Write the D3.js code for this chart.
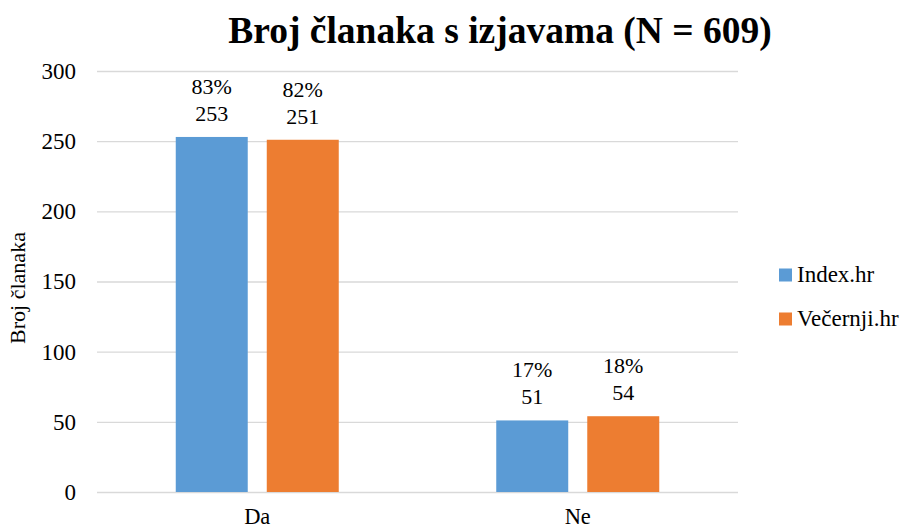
<!DOCTYPE html>
<html><head><meta charset="utf-8">
<script src="https://cdn.jsdelivr.net/npm/d3@7"></script>
<style>body{margin:0;background:#fff}</style>
</head><body>
<svg id="c" width="908" height="531"></svg>
<script>
const categories = ["Da", "Ne"];
const series = ["Index.hr", "Večernji.hr"];
const indexValues = [253, 51];
const vecernjiValues = [251, 54];
const indexPct = ["83%", "17%"];
const vecernjiPct = ["82%", "18%"];
const yTicks = [0, 50, 100, 150, 200, 250, 300];
const colors = ["#5B9BD5", "#ED7D31"];

(function () {
const values = [indexValues, vecernjiValues];
const pcts = [indexPct, vecernjiPct];
const font = "Liberation Serif";
const svg = d3.select("#c");
const mLeft = 97, mRight = 738, mTop = 71, mBottom = 492;

const y = d3.scaleLinear().domain([0, 300]).range([mBottom, mTop]);
const x0 = d3.scaleBand().domain(categories).range([mLeft, mRight]).padding(0);
const groupW = 163;
const x1 = d3.scaleBand().domain(series).range([0, groupW]).paddingInner(0.209).paddingOuter(0);

svg.append("text").attr("x", 500).attr("y", 43).attr("text-anchor", "middle")
  .attr("font-family", font).attr("font-weight", "bold").attr("font-size", 37.5).attr("fill", "#000")
  .text("Broj članaka s izjavama (N = 609)");

const yAxis = d3.axisLeft(y).tickValues(yTicks).tickSize(-(mRight - mLeft)).tickPadding(21);
const gy = svg.append("g").attr("transform", `translate(${mLeft},0)`).call(yAxis);
gy.attr("font-family", font);
gy.select(".domain").remove();
gy.selectAll(".tick line").attr("stroke", "#d9d9d9").attr("stroke-width", 1.3);
gy.selectAll(".tick text").attr("font-family", font).attr("font-size", 23).attr("fill", "#000");

svg.append("text").attr("transform", "translate(25,288) rotate(-90)").attr("text-anchor", "middle")
  .attr("font-family", font).attr("font-size", 22).attr("fill", "#000").text("Broj članaka");

const xAxis = d3.axisBottom(x0).tickSize(0).tickPadding(16);
const gx = svg.append("g").attr("transform", `translate(0,${mBottom})`).call(xAxis);
gx.attr("font-family", font);
gx.select(".domain").remove();
gx.selectAll(".tick text").attr("font-family", font).attr("font-size", 22.5).attr("fill", "#000");

categories.forEach((cat, ci) => {
  const gx0 = x0(cat) + x0.bandwidth() / 2 - groupW / 2;
  series.forEach((s, si) => {
    const v = values[si][ci];
    const bx = gx0 + x1(s);
    svg.append("rect").attr("x", bx).attr("y", y(v)).attr("width", x1.bandwidth())
      .attr("height", y(0) - y(v)).attr("fill", colors[si]);
    const cx = bx + x1.bandwidth() / 2;
    svg.append("text").attr("x", cx).attr("y", y(v) - 43).attr("text-anchor", "middle")
      .attr("font-family", font).attr("font-size", 22).attr("fill", "#000").text(pcts[si][ci]);
    svg.append("text").attr("x", cx).attr("y", y(v) - 16).attr("text-anchor", "middle")
      .attr("font-family", font).attr("font-size", 22).attr("fill", "#000").text(v);
  });
});

series.forEach((s, si) => {
  const ly = 275 + si * 44;
  svg.append("rect").attr("x", 779).attr("y", ly - 6.5).attr("width", 13).attr("height", 13).attr("fill", colors[si]);
  svg.append("text").attr("x", 797).attr("y", ly + 7).attr("font-family", font).attr("font-size", 23)
    .attr("fill", "#000").text(s);
});
})();
</script>
</body></html>
